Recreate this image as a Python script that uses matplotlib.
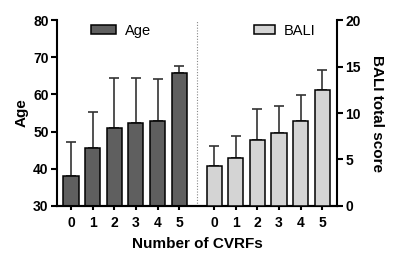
import matplotlib
matplotlib.use("Agg")
import matplotlib.pyplot as plt
import numpy as np

plt.rcParams['font.family'] = ['Liberation Sans', 'DejaVu Sans']

categories = ["0", "1", "2", "3", "4", "5"]
age_mean = [38.0, 45.6, 50.9, 52.4, 52.8, 65.7]
age_err_top = [47.2, 55.4, 64.4, 64.4, 64.1, 67.7]
bali_mean = [4.3, 5.2, 7.1, 7.9, 9.1, 12.5]
bali_err_top = [6.45, 7.56, 10.4, 10.8, 11.9, 14.6]

age_err = [a - b for a, b in zip(age_err_top, age_mean)]
bali_err = [a - b for a, b in zip(bali_err_top, bali_mean)]

fig = plt.figure(figsize=(4.0, 2.67), dpi=100)
ax = fig.add_axes([0.1425, 0.2285, 0.70, 0.6965])
ax2 = ax.twinx()

n = len(categories)
x_left = np.arange(n)
offset = 6.62
x_right = x_left + offset
w = 0.7

ax.bar(x_left, np.array(age_mean) - 30, bottom=30, width=w, color="#5f5f5f",
       edgecolor="black", linewidth=1.1, label="Age", zorder=3)
ax.errorbar(x_left, age_mean, yerr=[[0]*n, age_err], fmt="none", ecolor="#333333",
            elinewidth=1.2, capsize=3.5, capthick=1.2, zorder=2)

ax2.bar(x_right, bali_mean, width=w, color="#d4d4d4",
        edgecolor="black", linewidth=1.1, label="BALI", zorder=3)
ax2.errorbar(x_right, bali_mean, yerr=[[0]*n, bali_err], fmt="none", ecolor="#333333",
             elinewidth=1.2, capsize=3.5, capthick=1.2, zorder=2)

ax.set_xlim(-0.65, 12.3)
ax.set_ylim(30, 80)
ax2.set_ylim(0, 20)
ax.set_yticks([30, 40, 50, 60, 70, 80])
ax2.set_yticks([0, 5, 10, 15, 20])

ax.set_xticks(list(x_left) + list(x_right))
ax.set_xticklabels(categories + categories)

ax.axvline(5.83, color="#888888", linestyle=(0, (1, 1.5)), linewidth=0.8)

for a in (ax, ax2):
    a.spines['top'].set_visible(False)
    for s in a.spines.values():
        s.set_linewidth(1.5)
    a.tick_params(axis='both', width=1.5, length=4, labelsize=10, pad=2)
    for lab in a.get_yticklabels() + a.get_xticklabels():
        lab.set_fontweight('bold')
ax.tick_params(axis='x', length=3, pad=4)
ax2.spines['left'].set_visible(False)
ax.spines['right'].set_visible(False)

ax.set_ylabel("Age", fontsize=11, fontweight='bold', labelpad=3)
ax2.set_ylabel("BALI total score", fontsize=11, fontweight='bold', rotation=270, labelpad=17)
ax.set_xlabel("Number of CVRFs", fontsize=11, fontweight='bold', labelpad=5)

ax.legend(loc="upper left", bbox_to_anchor=(0.075, 1.05), frameon=False, fontsize=10.5,
          handlelength=1.7, handleheight=0.6, handletextpad=0.6)
ax2.legend(loc="upper left", bbox_to_anchor=(0.655, 1.05), frameon=False, fontsize=10.5,
           handlelength=1.5, handleheight=0.6, handletextpad=0.6)

fig.savefig("out.png", dpi=100)
